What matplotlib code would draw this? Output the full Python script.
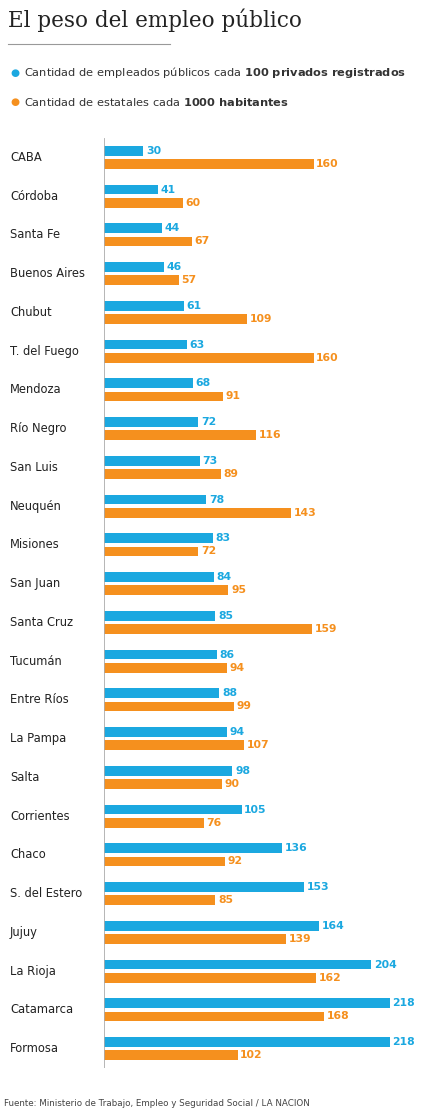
import matplotlib
matplotlib.use("Agg")
import matplotlib.pyplot as plt

provinces = ["CABA","Córdoba","Santa Fe","Buenos Aires","Chubut","T. del Fuego","Mendoza","Río Negro","San Luis","Neuquén","Misiones","San Juan","Santa Cruz","Tucumán","Entre Ríos","La Pampa","Salta","Corrientes","Chaco","S. del Estero","Jujuy","La Rioja","Catamarca","Formosa"]
publicos = [30,41,44,46,61,63,68,72,73,78,83,84,85,86,88,94,98,105,136,153,164,204,218,218]
habitantes = [160,60,67,57,109,160,91,116,89,143,72,95,159,94,99,107,90,76,92,85,139,162,168,102]

BLUE = "#1ba8e0"
ORANGE = "#f5901e"
W, H = 440, 1114
fig = plt.figure(figsize=(W/100, H/100), dpi=100)
fig.patch.set_facecolor("white")

def fx(x): return x / W
def fy(y): return 1 - y / H

fig.text(fx(8), fy(20), "El peso del empleo público", fontsize=15.5, family="DejaVu Serif", va="center", color="#222")
fig.add_artist(plt.Line2D([fx(8), fx(170)], [fy(44), fy(44)], color="#999", lw=0.8))
fig.text(fx(10), fy(73), "●", color=BLUE, fontsize=7.5, va="center")
fig.text(fx(24), fy(73), "Cantidad de empleados públicos cada $\\bf{100\\ privados\\ registrados}$", fontsize=8.2, va="center", color="#333")
fig.text(fx(10), fy(102), "●", color=ORANGE, fontsize=7.5, va="center")
fig.text(fx(24), fy(102), "Cantidad de estatales cada $\\bf{1000\\ habitantes}$", fontsize=8.2, va="center", color="#333")
fig.text(fx(4), fy(1103), "Fuente: Ministerio de Trabajo, Empleo y Seguridad Social / LA NACION", fontsize=6.3, color="#444", va="center")

x0, x1 = 104, 430
y_top, y_bot = 138, 1068
ax = fig.add_axes([fx(x0), fy(y_bot), fx(x1 - x0), (y_bot - y_top) / H])
n = len(provinces)
ax.set_xlim(0, (x1 - x0) / 1.31)
ax.set_ylim(n - 0.5, -0.5)
ys = list(range(n))
bh = 0.25
ax.barh([y - 0.17 for y in ys], publicos, height=bh, color=BLUE)
ax.barh([y + 0.17 for y in ys], habitantes, height=bh, color=ORANGE)
for y, p, h, name in zip(ys, publicos, habitantes, provinces):
    ax.text(p + 2, y - 0.17, str(p), color=BLUE, fontsize=7.8, fontweight="bold", va="center")
    ax.text(h + 2, y + 0.17, str(h), color=ORANGE, fontsize=7.8, fontweight="bold", va="center")
    ax.text(-94 / 1.31, y, name, fontsize=8.3, va="center", color="#222")
for s in ax.spines.values():
    s.set_visible(False)
ax.axvline(0, color="#aaa", lw=0.6)
ax.set_xticks([]); ax.set_yticks([])
fig.savefig("out.png", dpi=100)
